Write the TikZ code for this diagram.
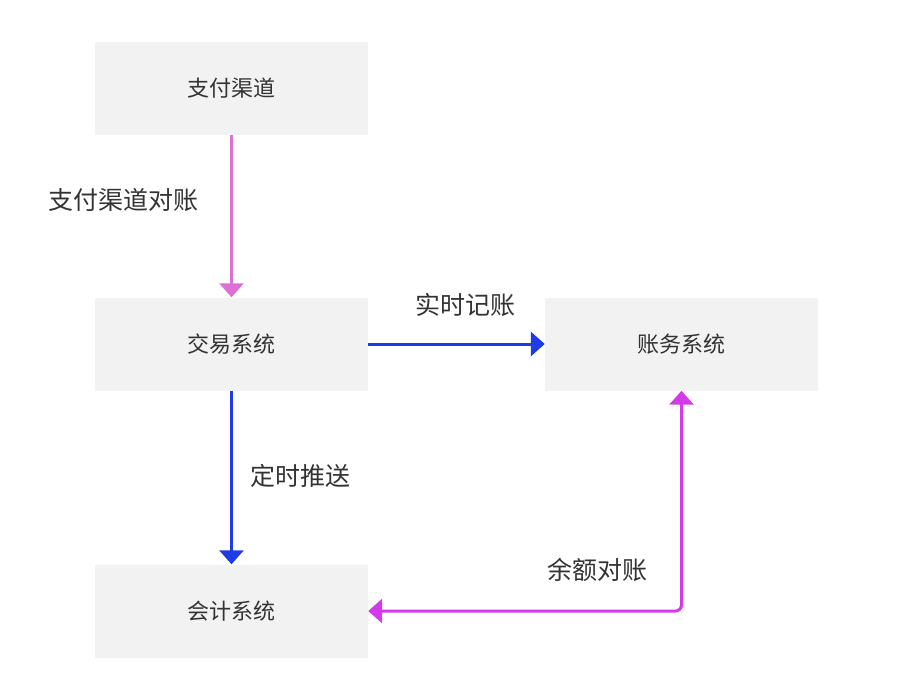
\documentclass[tikz,border=0pt]{standalone}
\usepackage{fontspec}
\setmainfont{Noto Sans CJK SC}
\usetikzlibrary{arrows.meta}
\definecolor{boxgray}{HTML}{F2F2F2}
\definecolor{txtgray}{HTML}{333333}
\definecolor{pinkline}{HTML}{DC70D4}
\definecolor{blueline}{HTML}{1E3CE6}
\definecolor{magline}{HTML}{D23CE8}
\begin{document}
\begin{tikzpicture}[x=1pt,y=-1pt,
    sysbox/.style={fill=boxgray,minimum width=273pt,minimum height=93pt,inner sep=0pt,
      text=txtgray,font=\fontsize{22}{26}\selectfont},
    lbl/.style={text=txtgray,font=\fontsize{25}{30}\selectfont,inner sep=0pt},
    flow/.style={line width=3pt,-{Triangle[length=14pt,width=24pt]}},
    bothflow/.style={line width=3pt,{Triangle[length=14pt,width=24pt]}-{Triangle[length=14pt,width=24pt]}}]
      \useasboundingbox (0,0) rectangle (900,694);
      \node[sysbox] (pay) at (231.5,88.5) {支付渠道};
      \node[sysbox] (trade) at (231.5,344) {交易系统};
      \node[sysbox] (ledger) at (681.5,344) {账务系统};
      \node[sysbox] (acct) at (231.5,611) {会计系统};
      \draw[flow,pinkline] (pay.south) -- (trade.north);
      \draw[flow,blueline] (trade.east) -- (ledger.west);
      \draw[flow,blueline] (trade.south) -- (acct.north);
      \draw[bothflow,magline,rounded corners=6pt] (ledger.south) |- (acct.east);
      \node[lbl] (l1) at (123.5,200) {支付渠道对账};
      \node[lbl] (l2) at (465,305) {实时记账};
      \node[lbl] (l3) at (300,476) {定时推送};
      \node[lbl] (l4) at (597,570) {余额对账};
    \end{tikzpicture}
\end{document}
